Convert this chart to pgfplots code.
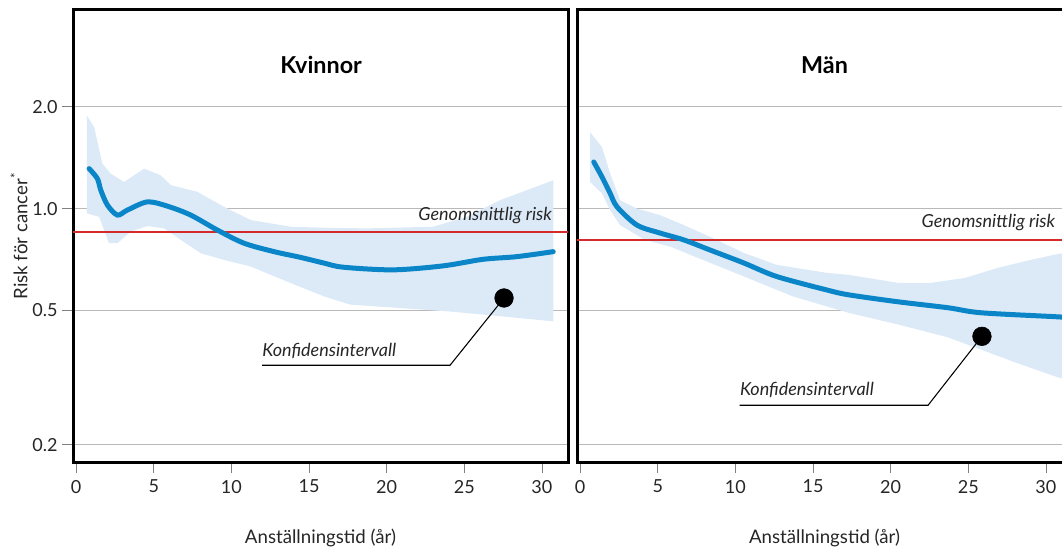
\documentclass[border=0pt]{standalone}
\usepackage{fontspec}
\setmainfont{Lato}
\usepackage{pgfplots}
\pgfplotsset{compat=1.18}
\definecolor{bandblue}{HTML}{DCEAF8}
\definecolor{lineblue}{HTML}{0A86C8}
\definecolor{avgred}{HTML}{D42A2A}
\begin{document}
\begin{tikzpicture}
% ---------- Kvinnor ----------
\begin{axis}[at={(0,0)},
  scale only axis, width=371.25pt, height=339pt,
  ymode=log, ymin=0.178, ymax=3.87, xmin=-0.2, xmax=31.68,
  xtick={0,5,10,15,20,25,30}, ytick={0.2,0.5,1,2},
  ymajorgrids, grid style={gray!55, line width=0.6pt},
  axis line style={line width=2.25pt},
  tick align=outside, major tick length=8pt,
  xtick pos=bottom, ytick pos=left,
  tick style={gray, line width=0.6pt},
  /pgf/number format/assume math mode=true,
  tick label style={font=\fontsize{13.5}{15}\selectfont, text=black!85},
  xticklabel style={yshift=-2pt},
  xlabel={Anställningstid (år)},
  xlabel style={at={(axis description cs:0.5,-0.168)}, anchor=center, font=\fontsize{14}{16}\selectfont, text=black!85},
  yticklabels={0.2,0.5,1.0,2.0},
  ylabel={Risk för cancer\textsuperscript{*}},
  ylabel style={at={(axis description cs:-0.109,0.5)}, anchor=center, font=\fontsize{14}{16}\selectfont, text=black!85},
]
\addplot[fill=bandblue, draw=none] coordinates {
 (0.69,1.886) (1.16,1.742) (1.69,1.359) (2.23,1.269) (3.09,1.199) (4.38,1.313)
 (5.45,1.255) (6.1,1.173) (7.81,1.121) (9.53,1.012) (11.25,0.925) (13.82,0.884)
 (15.97,0.878) (18.72,0.874) (23.0,0.884) (25.16,0.946) (27.3,1.059) (30.73,1.213)
 (30.73,0.464) (26.2,0.486) (24.08,0.496) (20.86,0.508) (17.64,0.520) (15.97,0.55)
 (13.82,0.602) (11.25,0.674) (9.53,0.705) (8.03,0.738) (6.74,0.808) (5.67,0.874)
 (4.59,0.888) (3.52,0.855) (2.66,0.790) (2.12,0.790) (1.8,0.864) (1.48,0.946)
 (0.69,0.968)
} -- cycle;
\addplot[avgred, line width=1.5pt] coordinates {(-1,0.851) (33,0.851)};
\addplot[lineblue, line width=3.75pt, smooth, line cap=round] coordinates {
 (0.84,1.313) (1.37,1.227) (1.59,1.134) (2.02,1.024) (2.66,0.957) (3.30,0.99)
 (4.59,1.047) (5.88,1.017) (7.38,0.957) (9.1,0.864) (10.82,0.790) (12.75,0.746)
 (14.42,0.718) (15.97,0.690) (17.2,0.671) (20.41,0.659) (23.63,0.677) (26.2,0.708)
 (28.38,0.721) (30.73,0.746)
};
\addplot[black, line width=0.8pt] coordinates {(27.56,0.544) (24.08,0.344) (11.98,0.344)};
\addplot[only marks, mark=*, mark size=7pt, black] coordinates {(27.56,0.544)};
\node[anchor=east, font=\itshape\fontsize{13.5}{15}\selectfont, text=black!85] at (axis cs:30.95,0.952) {Genomsnittlig risk};
\node[anchor=west, font=\itshape\fontsize{13.5}{15}\selectfont, text=black!85, inner sep=0pt] at (axis cs:11.98,0.378) {Konfidensintervall};
\node[font=\bfseries\fontsize{17.5}{20}\selectfont] at (axis cs:15.78,2.66) {Kvinnor};
\end{axis}
% ---------- Män ----------
\begin{axis}[at={(378pt,0)},
  scale only axis, width=371.25pt, height=339pt,
  ymode=log, ymin=0.178, ymax=3.87, xmin=-0.2, xmax=31.68,
  xtick={0,5,10,15,20,25,30}, ytick={0.2,0.5,1,2},
  ymajorgrids, grid style={gray!55, line width=0.6pt},
  axis line style={line width=2.25pt},
  tick align=outside, major tick length=8pt,
  xtick pos=bottom, ytick pos=left,
  tick style={gray, line width=0.6pt},
  /pgf/number format/assume math mode=true,
  tick label style={font=\fontsize{13.5}{15}\selectfont, text=black!85},
  xticklabel style={yshift=-2pt},
  xlabel={Anställningstid (år)},
  xlabel style={at={(axis description cs:0.5,-0.168)}, anchor=center, font=\fontsize{14}{16}\selectfont, text=black!85},
  yticklabels={}, ytick style={draw=none},
]
\addplot[fill=bandblue, draw=none] coordinates {
 (0.64,1.684) (1.41,1.521) (1.93,1.272) (2.57,1.059) (3.66,1.0) (5.14,0.957)
 (6.68,0.894) (8.35,0.826) (10.53,0.740) (12.65,0.682) (15.86,0.646) (17.28,0.637)
 (20.49,0.603) (22.6,0.603) (24.8,0.624) (26.9,0.668) (29.0,0.705) (30.76,0.734)
 (32.0,0.75)
 (32.0,0.305) (30.76,0.317) (28.0,0.351) (25.8,0.383) (23.7,0.416) (20.49,0.454)
 (17.28,0.492) (15.86,0.514) (13.7,0.55) (11.6,0.602) (9.5,0.659) (7.39,0.721)
 (5.84,0.771) (4.17,0.808) (2.57,0.894) (1.93,0.99) (1.41,1.109) (0.64,1.199)
} -- cycle;
\addplot[avgred, line width=1.5pt] coordinates {(-1,0.81) (33,0.81)};
\addplot[lineblue, line width=3.75pt, smooth, line cap=round] coordinates {
 (0.88,1.374) (1.41,1.241) (1.93,1.111) (2.38,1.012) (3.66,0.894) (5.14,0.847)
 (6.68,0.808) (8.35,0.755) (10.53,0.691) (12.65,0.630) (15.86,0.575) (17.28,0.556)
 (20.49,0.530) (23.7,0.509) (25.8,0.492) (30.57,0.479) (31.5,0.476)
};
\addplot[black, line width=0.8pt] coordinates {(25.88,0.419) (22.41,0.262) (10.28,0.262)};
\addplot[only marks, mark=*, mark size=7pt, black] coordinates {(25.88,0.419)};
\node[anchor=east, font=\itshape\fontsize{13.5}{15}\selectfont, text=black!85] at (axis cs:30.9,0.909) {Genomsnittlig risk};
\node[anchor=west, font=\itshape\fontsize{13.5}{15}\selectfont, text=black!85, inner sep=0pt] at (axis cs:10.28,0.290) {Konfidensintervall};
\node[font=\bfseries\fontsize{17.5}{20}\selectfont] at (axis cs:15.74,2.66) {Män};
\end{axis}
\pgfresetboundingbox
\useasboundingbox (-54.75pt,-64.5pt) rectangle (741.75pt,346.5pt);
\end{tikzpicture}
\end{document}
